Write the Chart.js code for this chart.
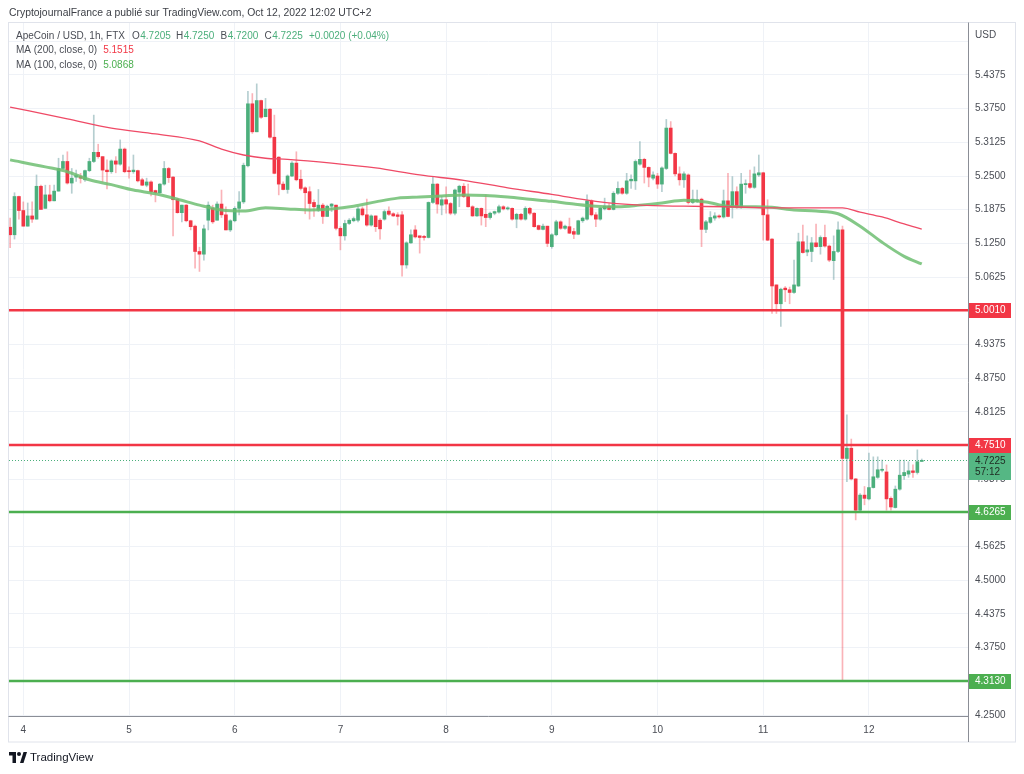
<!DOCTYPE html>
<html><head><meta charset="utf-8">
<script src="https://cdn.jsdelivr.net/npm/chart.js@4.4.0/dist/chart.umd.min.js"></script>
<style>html,body{margin:0;padding:0;background:#fff}canvas{display:block}</style>
</head><body>
<canvas id="c" width="1024" height="774"></canvas>
<script>
// ---- DATA (hourly candles, hour 0 = Oct 4 00:00 UTC+2) ----
const firstHour = -3;
const opens = [5.155,5.141,5.212,5.186,5.157,5.176,5.170,5.231,5.190,5.215,5.204,5.222,5.264,
5.277,5.237,5.248,5.249,5.243,5.260,5.277,5.294,5.286,5.261,
5.258,5.278,5.272,5.300,5.260,5.258,5.260,5.243,5.233,5.239,
5.223,5.219,5.235,5.264,5.248,5.207,5.182,5.196,5.167,5.157,
5.110,5.105,5.168,5.190,5.168,5.198,5.178,5.150,5.167,5.190,
5.202,5.269,5.384,5.332,5.390,5.360,5.374,5.322,5.285,5.235,
5.225,5.250,5.274,5.244,5.228,5.221,5.201,5.187,5.196,5.175,
5.194,5.196,5.153,5.139,5.162,5.167,5.168,5.189,5.178,5.159,
5.176,5.168,5.170,5.185,5.180,5.178,5.178,5.085,5.126,5.150,
5.139,5.138,5.136,5.201,5.235,5.196,5.206,5.199,5.181,5.220,
5.231,5.212,5.193,5.176,5.190,5.179,5.173,5.181,5.183,5.193,
5.189,5.190,5.170,5.179,5.170,5.190,5.181,5.158,5.151,5.157,
5.119,5.141,5.165,5.153,5.156,5.147,5.142,5.167,5.170,5.204,
5.178,5.170,5.189,5.194,5.188,5.218,5.227,5.218,5.241,5.241,
5.272,5.281,5.266,5.246,5.250,5.235,5.264,5.339,5.292,5.254,
5.243,5.252,5.201,5.203,5.207,5.151,5.164,5.172,5.176,5.174,
5.204,5.192,5.221,5.192,5.234,5.236,5.229,5.252,5.256,5.178,
5.133,5.048,5.013,5.042,5.039,5.034,5.046,5.128,5.109,5.110,
5.126,5.119,5.136,5.120,5.093,5.110,5.150,4.726,4.745,4.688,
4.630,4.658,4.651,4.672,4.691,4.704,4.701,4.652,4.635,4.669,
4.694,4.697,4.703,4.700,4.7205];
const highs = [5.172,5.219,5.213,5.202,5.200,5.202,5.252,5.233,5.233,5.233,5.233,5.283,5.289,
5.295,5.264,5.261,5.255,5.261,5.283,5.363,5.309,5.286,5.280,
5.280,5.286,5.317,5.302,5.267,5.289,5.261,5.246,5.246,5.241,
5.224,5.236,5.277,5.266,5.249,5.209,5.196,5.197,5.168,5.159,
5.118,5.159,5.202,5.196,5.202,5.224,5.193,5.169,5.193,5.221,
5.274,5.407,5.403,5.421,5.391,5.394,5.375,5.363,5.286,5.239,
5.252,5.277,5.295,5.261,5.230,5.230,5.206,5.225,5.199,5.196,
5.199,5.196,5.156,5.168,5.171,5.174,5.193,5.193,5.207,5.178,
5.176,5.171,5.187,5.193,5.182,5.182,5.184,5.128,5.150,5.158,
5.139,5.140,5.202,5.249,5.236,5.212,5.230,5.201,5.226,5.233,
5.236,5.235,5.195,5.191,5.191,5.215,5.183,5.185,5.196,5.195,
5.193,5.191,5.181,5.181,5.193,5.192,5.182,5.159,5.161,5.157,
5.143,5.168,5.167,5.159,5.172,5.153,5.168,5.174,5.215,5.206,
5.182,5.192,5.209,5.199,5.221,5.239,5.229,5.255,5.252,5.280,
5.314,5.283,5.267,5.258,5.255,5.267,5.355,5.351,5.293,5.267,
5.258,5.254,5.224,5.224,5.209,5.168,5.184,5.182,5.178,5.224,
5.255,5.249,5.230,5.255,5.243,5.261,5.267,5.289,5.257,5.206,
5.134,5.048,5.042,5.045,5.044,5.094,5.144,5.159,5.139,5.136,
5.161,5.139,5.159,5.122,5.139,5.165,5.157,4.807,4.762,4.689,
4.661,4.674,4.736,4.729,4.729,4.723,4.714,4.655,4.675,4.723,
4.723,4.720,4.714,4.742,4.725];
const lows = [5.117,5.133,5.170,5.157,5.157,5.164,5.170,5.188,5.190,5.202,5.204,5.222,5.264,
5.235,5.218,5.240,5.237,5.240,5.258,5.275,5.283,5.239,5.226,
5.255,5.256,5.270,5.256,5.246,5.255,5.239,5.232,5.230,5.213,
5.202,5.218,5.233,5.238,5.139,5.181,5.165,5.165,5.150,5.079,
5.073,5.094,5.150,5.162,5.168,5.173,5.150,5.147,5.165,5.178,
5.199,5.267,5.329,5.332,5.357,5.360,5.320,5.254,5.215,5.224,
5.218,5.249,5.241,5.224,5.180,5.170,5.175,5.184,5.162,5.175,
5.184,5.150,5.113,5.131,5.160,5.165,5.165,5.176,5.157,5.157,
5.147,5.133,5.168,5.177,5.175,5.159,5.064,5.079,5.125,5.135,
5.107,5.131,5.135,5.199,5.181,5.178,5.181,5.178,5.178,5.193,
5.210,5.192,5.175,5.175,5.159,5.156,5.170,5.178,5.181,5.187,
5.187,5.168,5.154,5.168,5.168,5.178,5.155,5.150,5.150,5.119,
5.116,5.139,5.151,5.151,5.143,5.134,5.141,5.164,5.168,5.176,
5.156,5.168,5.187,5.187,5.187,5.216,5.216,5.216,5.227,5.225,
5.270,5.237,5.230,5.243,5.227,5.221,5.262,5.291,5.250,5.233,
5.229,5.198,5.199,5.201,5.119,5.145,5.162,5.168,5.172,5.172,
5.174,5.172,5.190,5.190,5.218,5.227,5.227,5.249,5.131,5.130,
4.995,4.995,4.971,5.017,5.013,5.032,5.045,5.107,5.102,5.091,
5.118,5.105,5.118,5.091,5.058,5.108,4.313,4.683,4.686,4.612,
4.629,4.640,4.649,4.671,4.689,4.701,4.630,4.630,4.634,4.667,
4.687,4.691,4.691,4.697,4.720];
const closes = [5.141,5.212,5.186,5.157,5.176,5.170,5.231,5.188,5.215,5.204,5.222,5.264,5.277,
5.237,5.246,5.251,5.246,5.260,5.277,5.294,5.286,5.261,5.258,
5.278,5.272,5.300,5.258,5.258,5.261,5.241,5.233,5.239,5.221,
5.219,5.235,5.264,5.247,5.206,5.182,5.196,5.167,5.156,5.110,
5.105,5.152,5.196,5.165,5.198,5.178,5.150,5.167,5.190,5.202,
5.270,5.384,5.332,5.390,5.359,5.374,5.322,5.255,5.235,5.225,
5.250,5.274,5.243,5.227,5.219,5.199,5.193,5.196,5.175,5.194,
5.198,5.153,5.139,5.162,5.168,5.171,5.189,5.178,5.159,5.176,
5.156,5.152,5.184,5.179,5.176,5.175,5.085,5.126,5.141,5.137,
5.136,5.136,5.201,5.235,5.198,5.206,5.198,5.181,5.224,5.231,
5.212,5.193,5.176,5.190,5.176,5.173,5.181,5.184,5.193,5.189,
5.191,5.170,5.179,5.170,5.190,5.181,5.156,5.151,5.157,5.125,
5.141,5.165,5.153,5.157,5.144,5.142,5.167,5.172,5.204,5.178,
5.170,5.190,5.194,5.188,5.218,5.227,5.218,5.241,5.244,5.277,
5.281,5.266,5.248,5.252,5.235,5.265,5.339,5.292,5.254,5.243,
5.254,5.201,5.207,5.206,5.151,5.165,5.173,5.176,5.174,5.204,
5.175,5.221,5.192,5.235,5.236,5.229,5.254,5.256,5.178,5.131,
5.046,5.013,5.040,5.039,5.034,5.048,5.128,5.108,5.113,5.126,
5.119,5.136,5.120,5.094,5.110,5.150,4.726,4.745,4.688,4.630,
4.658,4.652,4.672,4.692,4.705,4.706,4.651,4.636,4.669,4.695,
4.700,4.703,4.700,4.720,4.7225];

const ma200Hours  = [-3,10,20,30,40,45,50,55,60,70,80,90,100,110,120,130,140,150,160,170,180,186,190,195,200,204];
const ma200Values = [5.378,5.356,5.339,5.328,5.315,5.300,5.289,5.283,5.281,5.274,5.265,5.252,5.242,5.228,5.216,5.203,5.196,5.194,5.193,5.191,5.191,5.191,5.183,5.174,5.161,5.1515];
const ma100Hours  = [-3,5,10,15,20,25,30,35,40,45,50,55,60,65,70,75,80,85,90,95,100,105,110,115,120,125,130,135,140,145,150,155,160,165,170,175,180,185,190,195,200,204];
const ma100Values = [5.280,5.267,5.258,5.243,5.234,5.224,5.217,5.207,5.196,5.187,5.185,5.191,5.189,5.187,5.189,5.194,5.202,5.209,5.211,5.213,5.215,5.214,5.211,5.207,5.203,5.198,5.194,5.193,5.196,5.200,5.205,5.202,5.194,5.193,5.192,5.187,5.185,5.180,5.157,5.127,5.101,5.0868];

const levelValues = [5.0010, 4.7510, 4.6265, 4.3130];
const levelKinds  = ['res','res','sup','sup'];

const dayTickHours = [0,24,48,72,96,120,144,168,192];
const dayLabels    = ['4','5','6','7','8','9','10','11','12'];
const yTicks = [4.25,4.3125,4.375,4.4375,4.5,4.5625,4.625,4.6875,4.75,4.8125,4.875,4.9375,5.0,5.0625,5.125,5.1875,5.25,5.3125,5.375,5.4375,5.5];

const lastPrice = closes[closes.length-1];
const countdown = '57:12';

// ---- STYLE ----
const GREEN = '#4caf7c', RED = '#f23645';
const GREEN_WICK = 'rgba(120,165,170,0.55)', RED_WICK = 'rgba(242,54,69,0.38)';
const LVL_RED = '#f23645', LVL_GREEN = '#4caf50';
const FONT = '"Liberation Sans", Arial, sans-serif';
const TXT = '#4a4d55';

const hours = opens.map((_, i) => firstHour + i);
const isUp = closes.map((c, i) => c >= opens[i]);

function fitSize(ctx, text, width) {
  ctx.font = '11px ' + FONT;
  return 11 * width / ctx.measureText(text).width;
}

const overlay = {
  id: 'overlay',
  beforeDraw(chart) {
    const ctx = chart.ctx;
    ctx.save(); ctx.fillStyle = '#fff'; ctx.fillRect(0, 0, chart.width, chart.height); ctx.restore();
  },
  afterDatasetsDraw(chart) {
    const { ctx, chartArea: a, scales: { y } } = chart;
    ctx.save();
    levelValues.forEach((v, i) => {
      const py = y.getPixelForValue(v);
      ctx.strokeStyle = levelKinds[i] === 'res' ? LVL_RED : LVL_GREEN;
      ctx.lineWidth = 2.5;
      ctx.beginPath(); ctx.moveTo(a.left, py); ctx.lineTo(a.right, py); ctx.stroke();
    });
    const pp = Math.round(y.getPixelForValue(lastPrice)) + 0.5;
    ctx.strokeStyle = '#4caf7c'; ctx.lineWidth = 1; ctx.setLineDash([1, 2]);
    ctx.beginPath(); ctx.moveTo(a.left, pp); ctx.lineTo(a.right, pp); ctx.stroke();
    ctx.restore();
  },
  afterDraw(chart) {
    const { ctx, chartArea: a, scales: { y } } = chart;
    ctx.save();
    // frame
    ctx.strokeStyle = '#e0e3eb'; ctx.lineWidth = 1;
    ctx.strokeRect(8.5, 22.5, 1007, 719.5);
    // axis lines
    ctx.strokeStyle = '#8b8e96';
    ctx.beginPath(); ctx.moveTo(a.right + 0.5, 22.5); ctx.lineTo(a.right + 0.5, 742); ctx.stroke();
    ctx.beginPath(); ctx.moveTo(8.5, a.bottom + 0.5); ctx.lineTo(a.right, a.bottom + 0.5); ctx.stroke();
    // level labels
    ctx.font = '10px ' + FONT; ctx.textBaseline = 'middle'; ctx.textAlign = 'left';
    levelValues.forEach((v, i) => {
      const py = Math.round(y.getPixelForValue(v));
      ctx.fillStyle = levelKinds[i] === 'res' ? LVL_RED : LVL_GREEN;
      ctx.fillRect(a.right + 1, py - 7, 42, 15);
      ctx.fillStyle = '#fff';
      ctx.fillText(v.toFixed(4), a.right + 7, py + 0.5);
    });
    // last price label
    const lp = Math.round(y.getPixelForValue(lastPrice));
    ctx.fillStyle = '#55b784';
    ctx.fillRect(a.right + 1, lp - 7, 42, 27);
    ctx.fillStyle = '#1e2b22';
    ctx.fillText(lastPrice.toFixed(4), a.right + 7, lp + 1);
    ctx.fillText(countdown, a.right + 7, lp + 12);
    // USD
    ctx.fillStyle = TXT; ctx.fillText('USD', a.right + 7, 35);
    // header
    const headerText = 'CryptojournalFrance a publié sur TradingView.com, Oct 12, 2022 12:02 UTC+2';
    const hs = fitSize(ctx, headerText, 363);
    ctx.font = hs + 'px ' + FONT; ctx.fillStyle = '#3d4047';
    ctx.fillText(headerText, 9, 13);
    // legend
    const ls = fitSize(ctx, 'ApeCoin / USD, 1h, FTX', 109);
    ctx.font = ls + 'px ' + FONT;
    const g = '#4caf7c';
    const pair = (label, value, x, yy, vc) => {
      ctx.fillStyle = TXT; ctx.fillText(label, x, yy);
      ctx.fillStyle = vc; ctx.fillText(value, x + ctx.measureText(label).width + 0.5, yy);
    };
    ctx.fillStyle = TXT; ctx.fillText('ApeCoin / USD, 1h, FTX', 16, 36);
    pair('O', '4.7205', 132, 36, g);
    pair('H', '4.7250', 176, 36, g);
    pair('B', '4.7200', 220.5, 36, g);
    pair('C', '4.7225', 264.5, 36, g);
    ctx.fillStyle = g; ctx.fillText('+0.0020 (+0.04%)', 309, 36);
    pair('MA (200, close, 0)  ', '5.1515', 16, 50, '#f23645');
    pair('MA (100, close, 0)  ', '5.0868', 16, 65, '#4caf50');
    // TradingView logo
    ctx.fillStyle = '#131722';
    ctx.fillRect(9, 752, 7, 3.5); ctx.fillRect(12.5, 752, 3.5, 11);
    ctx.beginPath(); ctx.arc(19, 754, 2, 0, Math.PI * 2); ctx.fill();
    ctx.beginPath(); ctx.moveTo(20, 763); ctx.lineTo(23.5, 752); ctx.lineTo(27, 752); ctx.lineTo(23.5, 763); ctx.closePath(); ctx.fill();
    ctx.font = '11.5px ' + FONT; ctx.fillText('TradingView', 30, 758);
    ctx.restore();
  }
};

new Chart(document.getElementById('c'), {
  type: 'bar',
  data: {
    datasets: [
      { type: 'line', data: ma200Hours.map((h, i) => ({ x: h, y: ma200Values[i] })), borderColor: '#ef4a66', borderWidth: 1.3,
        pointRadius: 0, cubicInterpolationMode: 'monotone', order: 0 },
      { type: 'line', data: ma100Hours.map((h, i) => ({ x: h, y: ma100Values[i] })), borderColor: 'rgba(110,190,114,0.85)', borderWidth: 3,
        pointRadius: 0, cubicInterpolationMode: 'monotone', order: 1 },
      { type: 'bar', data: hours.map((h, i) => ({ x: h, y: [opens[i], closes[i]] })), backgroundColor: isUp.map(u => u ? GREEN : RED),
        barThickness: 3, minBarLength: 1, grouped: false, order: 2 },
      { type: 'bar', data: hours.map((h, i) => ({ x: h, y: [lows[i], highs[i]] })), backgroundColor: isUp.map(u => u ? GREEN_WICK : RED_WICK),
        barThickness: 1, grouped: false, order: 3 }
    ]
  },
  options: {
    responsive: false, animation: false, devicePixelRatio: 1,
    layout: { padding: { left: 9, right: 8, top: 23, bottom: 32 } },
    plugins: { legend: { display: false }, tooltip: { enabled: false } },
    scales: {
      x: {
        type: 'linear', min: -3.25, max: 214.5, offset: false,
        grid: { color: '#eff2f7', drawTicks: false, offset: false }, border: { display: false },
        afterBuildTicks: s => { s.ticks = dayTickHours.map(v => ({ value: v })); },
        ticks: { callback: v => dayLabels[dayTickHours.indexOf(v)], padding: 8, color: TXT, font: { size: 10, family: FONT }, maxRotation: 0, autoSkip: false },
        afterFit: s => { s.height = 26; }
      },
      y: {
        position: 'right', min: 4.2482, max: 5.5339,
        grid: { color: '#eff2f7', drawTicks: false }, border: { display: false },
        afterBuildTicks: s => { s.ticks = yTicks.map(v => ({ value: v })); },
        ticks: { callback: v => v > 5.45 ? '' : Number(v).toFixed(4), padding: 7, color: TXT, font: { size: 10, family: FONT }, crossAlign: 'near' },
        afterFit: s => { s.width = 48; }
      }
    }
  },
  plugins: [overlay]
});
</script>
</body></html>
